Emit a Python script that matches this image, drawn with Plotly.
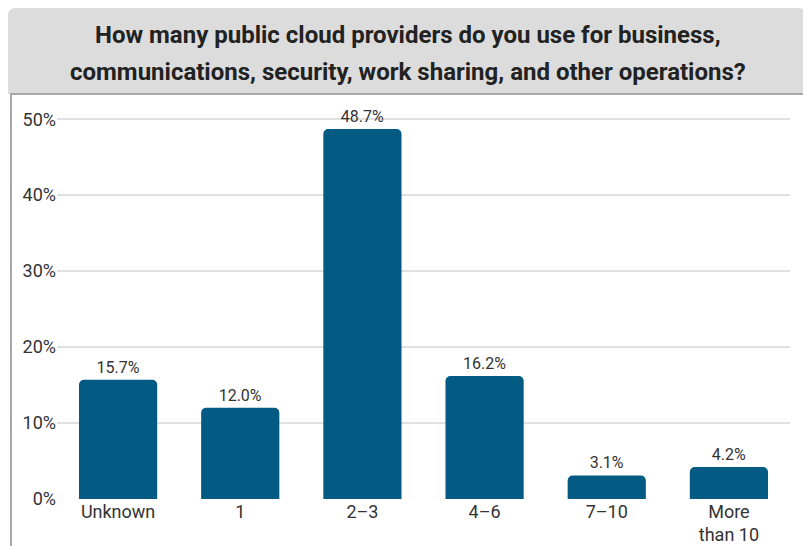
import plotly.graph_objects as go

categories = ["Unknown", "1", "2–3", "4–6", "7–10", "More<br>than 10"]
values = [15.7, 12.0, 48.7, 16.2, 3.1, 4.2]
tick_vals = [0, 10, 20, 30, 40, 50]
tick_text = ["0%", "10%", "20%", "30%", "40%", "50%"]
title_lines = [
    "How many public cloud providers do you use for business,",
    "communications, security, work sharing, and other operations?",
]

# the page body adds an 8px offset; work in page pixels and subtract it
OFF = 8
W, H = 811 - OFF, 546 - OFF
L, R, T, B = 57 - OFF, W - (790 - OFF), 104 - OFF, H - (499 - OFF)
WD, HD = W - L - R, H - T - B


def px(x):
    return (x - OFF - L) / WD


def py(y):
    return (H - B - (y - OFF)) / HD


fig = go.Figure(
    go.Bar(
        x=categories,
        y=values,
        marker=dict(color="#035a83", line=dict(width=0), cornerradius=5),
        texttemplate="%{y:.1f}%",
        textposition="outside",
        textfont=dict(family="Roboto, sans-serif", size=16, color="#333333"),
        cliponaxis=False,
        width=0.64,
    )
)

shapes = []
# header box with rounded top corners
hx0, hx1, hy0, hy1 = 8, 806, 8, 94
rad = 8
path = (
    f"M {px(hx0)},{py(hy1)} L {px(hx0)},{py(hy0 + rad)} "
    f"Q {px(hx0)},{py(hy0)} {px(hx0 + rad)},{py(hy0)} "
    f"L {px(hx1 - rad)},{py(hy0)} Q {px(hx1)},{py(hy0)} {px(hx1)},{py(hy0 + rad)} "
    f"L {px(hx1)},{py(hy1)} Z"
)
shapes.append(dict(type="path", xref="paper", yref="paper", path=path,
                   fillcolor="#dcdcdc", line=dict(width=0), layer="below"))
# body border
shapes.append(dict(type="line", xref="paper", yref="paper", x0=px(11), x1=px(11),
                   y0=py(94), y1=py(560), line=dict(color="#a8a8a8", width=2)))
shapes.append(dict(type="line", xref="paper", yref="paper", x0=px(805), x1=px(805),
                   y0=py(94), y1=py(560), line=dict(color="#a8a8a8", width=2)))
shapes.append(dict(type="line", xref="paper", yref="paper", x0=px(10), x1=px(806),
                   y0=py(94), y1=py(94), line=dict(color="#a8a8a8", width=2)))

annotations = []
for i, line in enumerate(title_lines):
    annotations.append(dict(
        text=f"<b>{line}</b>", xref="paper", yref="paper",
        x=px(408), y=py(35 + 37 * i), xanchor="center", yanchor="middle",
        showarrow=False,
        font=dict(family="Roboto, sans-serif", size=24, color="#222222"),
    ))

fig.update_layout(
    width=W, height=H,
    margin=dict(l=L, r=R, t=T, b=B, autoexpand=False),
    paper_bgcolor="white", plot_bgcolor="white",
    showlegend=False,
    shapes=shapes,
    annotations=annotations,
    xaxis=dict(
        showgrid=False, showline=False, zeroline=False, ticks="",
        tickfont=dict(family="Roboto, sans-serif", size=18, color="#333333"),
        range=[-0.5, 5.5],
    ),
    yaxis=dict(
        range=[0, 52], tickvals=tick_vals, ticktext=tick_text,
        showgrid=True, gridcolor="#e0e0e0", gridwidth=1.5,
        zeroline=False, showline=False, ticks="",
        tickfont=dict(family="Roboto, sans-serif", size=18, color="#333333"),
    ),
)

fig.write_html("out.html")
